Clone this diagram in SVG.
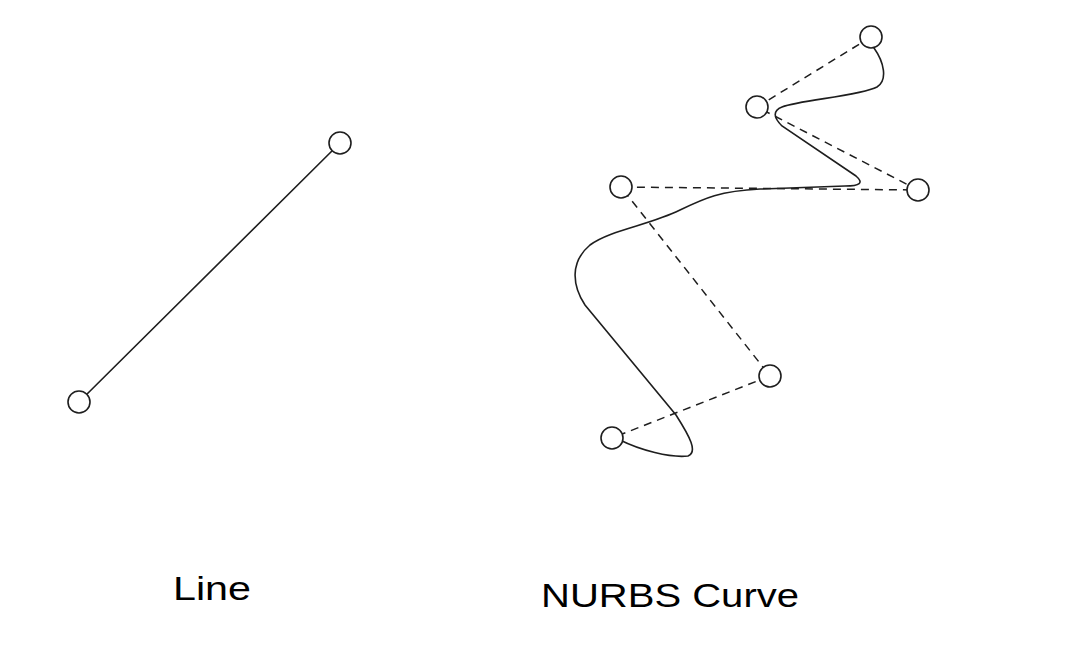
<svg xmlns="http://www.w3.org/2000/svg" width="1084" height="654" viewBox="0 0 1084 654">
<style>
.pt{fill:#fff;stroke:#1e1e1e;stroke-width:1.6}
.solid{fill:none;stroke:#1e1e1e;stroke-width:1.6;stroke-linecap:round}
.dash{fill:none;stroke:#1e1e1e;stroke-width:1.5;stroke-dasharray:8 6}
.lbl{font-family:"Liberation Sans",Arial,sans-serif;font-size:34px;fill:#000}
</style>
<rect width="1084" height="654" fill="#fff"/>
<g id="connectors">
<line class="solid" x1="79" y1="402" x2="340" y2="143"/>
<polyline class="dash" points="871,37 757,107 918,190 621,187 770,376 612,438"/>
<path class="solid" d="M874,48 C884,62 888,80 877,87 C860,96 800,100 782,107 C772,111 774,118 782,126 L856,176 C864,183 860,186 845,186 L760,189 C720,191 705,198 680,210 C650,225 610,230 590,245 C570,262 572,285 585,305 L676,415 C690,437 698,452 688,456 C670,458 640,450 620,440"/>
</g>
<g id="line-start"><circle class="pt" cx="79" cy="402" r="11"/></g>
<g id="line-end"><circle class="pt" cx="340" cy="143" r="11"/></g>
<g id="cp1"><circle class="pt" cx="871" cy="37" r="11"/></g>
<g id="cp2"><circle class="pt" cx="757" cy="107" r="11"/></g>
<g id="cp3"><circle class="pt" cx="918" cy="190" r="11"/></g>
<g id="cp4"><circle class="pt" cx="621" cy="187" r="11"/></g>
<g id="cp5"><circle class="pt" cx="770" cy="376" r="11"/></g>
<g id="cp6"><circle class="pt" cx="612" cy="438" r="11"/></g>
<g id="label-line"><text class="lbl" x="173" y="600" textLength="78" lengthAdjust="spacingAndGlyphs">Line</text></g>
<g id="label-nurbs"><text class="lbl" x="541" y="607" textLength="258" lengthAdjust="spacingAndGlyphs">NURBS Curve</text></g>
</svg>
